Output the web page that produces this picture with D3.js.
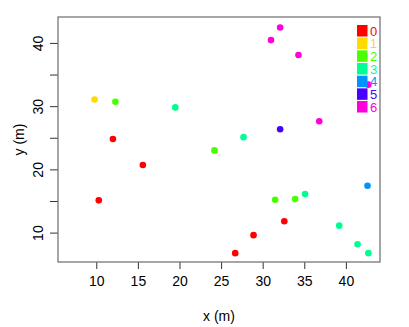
<!DOCTYPE html>
<html>
<head>
<meta charset="utf-8">
<script src="https://cdn.jsdelivr.net/npm/d3@7"></script>
<style>
  body { margin: 0; background: #fff; }
  text { font-family: "Liberation Sans", Arial, sans-serif; }
</style>
</head>
<body>
<svg id="chart" width="409" height="327"></svg>
<script>
// group id, x and y (m) of each point
const groups = [0, 0, 0, 0, 0, 0, 1, 2, 2, 2, 2, 3, 3, 3, 3, 3, 3, 4, 5, 6, 6, 6, 6, 6]
const xs = [10.3, 12.0, 15.6, 26.7, 28.9, 32.6, 9.8, 12.3, 24.2, 31.5, 33.9, 19.5, 27.7, 35.1, 39.2, 41.4, 42.7, 42.6, 32.1, 32.1, 31.0, 34.3, 36.8, 42.7]
const ys = [15.1, 24.8, 20.7, 6.75, 9.6, 11.8, 31.05, 30.7, 23.0, 15.2, 15.3, 29.8, 25.1, 16.1, 11.1, 8.15, 6.75, 17.4, 26.35, 42.45, 40.45, 38.1, 27.6, 33.4]
const legendLabels = ["0", "1", "2", "3", "4", "5", "6"]
const colors = ["#FF0000", "#FFDB00", "#49FF00", "#00FF92", "#0092FF", "#4900FF", "#FF00DB"]
const xTicks = [10, 15, 20, 25, 30, 35, 40]
const yTicks = [10, 20, 30, 40]
const yMinorTicks = [15, 25, 35]

const plotLeft = 58, plotRight = 380, plotTop = 17, plotBottom = 262

var svg = d3.select("#chart")

var x = d3.scaleLinear().domain([5.4, 44.1]).range([plotLeft, plotRight])
var y = d3.scaleLinear().domain([5.35, 44.1]).range([plotBottom, plotTop])

// x axis
var xAxis = svg.append("g")
    .attr("transform", `translate(0,${plotBottom})`)
    .call(d3.axisBottom(x).tickValues(xTicks).tickSize(7).tickPadding(7))
xAxis.select(".domain").remove()
xAxis.selectAll("line").attr("stroke", "#333")
xAxis.selectAll("text").attr("font-size", 14).attr("fill", "#000")

// y axis, labels turned like R does
var yAxis = svg.append("g")
    .attr("transform", `translate(${plotLeft},0)`)
    .call(d3.axisLeft(y).tickValues(yTicks.concat(yMinorTicks)).tickSize(8).tickFormat(d => yTicks.includes(d) ? d : ""))
yAxis.select(".domain").remove()
yAxis.selectAll("line").attr("stroke", "#333")
yAxis.selectAll("text")
    .attr("font-size", 14)
    .attr("fill", "#000")
    .attr("text-anchor", "middle")
    .attr("x", 0)
    .attr("dy", 0)
    .attr("transform", "translate(-15,0) rotate(-90)")

// axis titles
svg.append("text")
    .attr("x", (plotLeft + plotRight) / 2)
    .attr("y", 321)
    .attr("text-anchor", "middle")
    .attr("font-size", 14)
    .text("x (m)")

svg.append("text")
    .attr("transform", `translate(24,${(plotTop + plotBottom) / 2}) rotate(-90)`)
    .attr("text-anchor", "middle")
    .attr("font-size", 14)
    .text("y (m)")

// points
svg.selectAll("circle")
    .data(xs)
    .enter()
    .append("circle")
    .attr("cx", (d, i) => x(d))
    .attr("cy", (d, i) => y(ys[i]))
    .attr("r", 3.3)
    .attr("fill", (d, i) => colors[groups[i]])

// legend in the top right corner, no background
var legend = svg.selectAll(".leg")
    .data(legendLabels)
    .enter()
    .append("g")
    .attr("class", "leg")
    .attr("transform", (d, i) => `translate(357,${25 + i * 12.67})`)

legend.append("rect")
    .attr("width", 10.5)
    .attr("height", 11.5)
    .attr("fill", (d, i) => colors[i])

legend.append("text")
    .attr("x", 13)
    .attr("y", 10.5)
    .attr("font-size", 13)
    .attr("fill", (d, i) => colors[i])
    .text(d => d)

// plot box
svg.append("rect")
    .attr("x", plotLeft)
    .attr("y", plotTop)
    .attr("width", plotRight - plotLeft)
    .attr("height", plotBottom - plotTop)
    .attr("fill", "none")
    .attr("stroke", "#777")
    .attr("stroke-width", 1.3)
</script>
</body>
</html>
